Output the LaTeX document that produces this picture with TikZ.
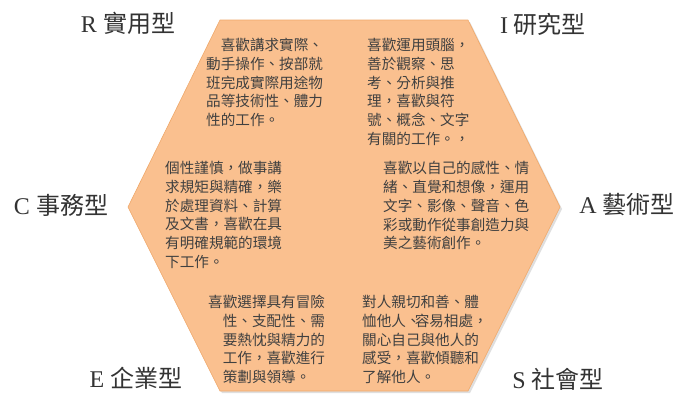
\documentclass[tikz,border=0pt]{standalone}
\usepackage{fontspec}
\setmainfont{Liberation Serif}
\newfontfamily\cjk{Noto Sans CJK TC}
\usetikzlibrary{positioning, shadows}
\definecolor{hexpeach}{HTML}{FAC08F}
\definecolor{hexedge}{HTML}{EFA86A}
\definecolor{bodygray}{HTML}{404040}

\begin{document}
\begin{tikzpicture}[
        x=1pt, y=-1pt,
        hexagon/.style={fill=hexpeach, draw=hexedge, line width=0.6pt, drop shadow={shadow xshift=2pt, shadow yshift=-2pt, opacity=0.25}},
        desc/.style={anchor=north west, align=left, inner sep=0pt, text=bodygray, font=\cjk\fontsize{14.6}{18.8}\selectfont},
        typelabel/.style={font=\fontsize{24}{24}\selectfont, text=black!80}
    ]
        \useasboundingbox (0,0) rectangle (681,394);

        % Hexagon
        \coordinate (nw) at (220,20);
        \coordinate (ne) at (468,20);
        \coordinate (e) at (560,207);
        \coordinate (se) at (468,391);
        \coordinate (sw) at (220,391);
        \coordinate (w) at (128,207);
        \draw[hexagon] (nw) -- (ne) -- (e) -- (se) -- (sw) -- (w) -- cycle;

        % Type labels
        \node[typelabel] (real) at (128,23) {R {\cjk 實用型}};
        \node[typelabel] (invest) at (543,24) {I {\cjk 研究型}};
        \node[typelabel] (conv) at (61,205) {C {\cjk 事務型}};
        \node[typelabel] (artist) at (627,205) {A {\cjk 藝術型}};
        \node[typelabel] (enter) at (136,378) {E {\cjk 企業型}};
        \node[typelabel] (social) at (558,379) {S {\cjk 社會型}};

        % Descriptions
        \node[desc] (realtext) at (206,38) {\hspace*{1em}喜歡講求實際、\\動手操作、按部就\\班完成實際用途物\\品等技術性、體力\\性的工作。};
        \node[desc] (investtext) at (367,38) {喜歡運用頭腦，\\善於觀察、思\\考、分析與推\\理，喜歡與符\\號、概念、文字\\有關的工作。，};
        \node[desc] (convtext) at (165,161) {個性謹慎，做事講\\求規矩與精確，樂\\於處理資料、計算\\及文書，喜歡在具\\有明確規範的環境\\下工作。};
        \node[desc] (artisttext) at (383,161) {喜歡以自己的感性、情\\緒、直覺和想像，運用\\文字、影像、聲音、色\\彩或動作從事創造力與\\美之藝術創作。};
        \node[desc] (entertext) at (208,295) {喜歡選擇具有冒險\\\hspace*{1em}性、支配性、需\\\hspace*{1em}要熱忱與精力的\\\hspace*{1em}工作，喜歡進行\\\hspace*{1em}策劃與領導。};
        \node[desc] (socialtext) at (362,295) {對人親切和善、體\\恤他人、\kern-0.4em容易相處，\\關心自己與他人的\\感受，喜歡傾聽和\\了解他人。};
    \end{tikzpicture}
\end{document}
